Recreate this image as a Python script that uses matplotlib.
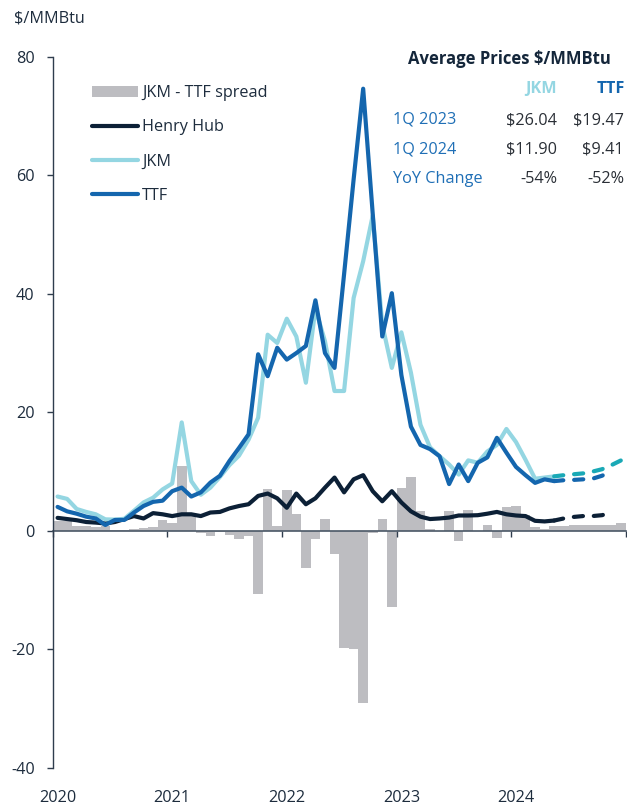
import numpy as np
import matplotlib
matplotlib.use("Agg")
import matplotlib.pyplot as plt
from matplotlib.lines import Line2D
from matplotlib.patches import Patch

plt.rcParams["font.family"] = ["Open Sans", "DejaVu Sans"]
plt.rcParams["axes.unicode_minus"] = False

# ---------------- data ($/MMBtu, monthly, Jan 2020 onwards) ----------------
year_labels = ["2020", "2021", "2022", "2023", "2024"]

henry_hub = [2.2, 2.0, 1.8, 1.5, 1.4, 1.25, 1.5, 2.0, 2.5, 2.1, 3.0, 2.8,
             2.5, 2.8, 2.8, 2.5, 3.1, 3.2, 3.8, 4.2, 4.5, 5.9, 6.3, 5.5,
             3.9, 6.3, 4.5, 5.5, 7.3, 9.0, 6.5, 8.7, 9.4, 6.7, 5.0, 6.7,
             4.8, 3.3, 2.4, 2.0, 2.1, 2.25, 2.6, 2.6, 2.65, 2.9, 3.2, 2.8,
             2.6, 2.5, 1.7, 1.6, 1.75]

jkm = [5.8, 5.4, 3.7, 3.2, 2.8, 1.95, 1.9, 2.05, 3.4, 4.8, 5.6, 7.0,
       8.0, 18.3, 8.4, 6.1, 7.3, 9.1, 11.1, 12.7, 15.4, 19.1, 33.1, 31.7,
       35.8, 32.8, 25.0, 37.5, 32.0, 23.6, 23.6, 39.3, 45.5, 53.2, 34.8, 27.5,
       33.5, 26.7, 17.9, 14.1, 12.6, 11.2, 9.5, 11.9, 11.5, 13.4, 14.5, 17.2,
       15.0, 12.0, 8.8, 9.0, 9.2]

ttf = [4.05, 3.3, 2.9, 2.4, 2.1, 1.0, 1.85, 1.85, 3.1, 4.2, 4.9, 5.1,
       6.7, 7.3, 5.8, 6.5, 8.15, 9.3, 11.8, 14.0, 16.3, 29.8, 26.1, 30.9,
       28.9, 30.0, 31.2, 38.9, 30.0, 27.5, 43.3, 59.3, 74.6, 53.5, 32.8, 40.1,
       26.3, 17.6, 14.5, 13.8, 12.6, 7.9, 11.2, 8.4, 11.5, 12.4, 15.7, 13.2,
       10.8, 9.4, 8.1, 8.7, 8.4]

jkm_ttf_spread = [1.6, 1.6, 0.8, 0.8, 0.7, 0.9, 0.1, 0.2, 0.3, 0.5, 0.6, 1.8,
                  1.3, 10.9, 2.6, -0.4, -0.85, -0.2, -0.7, -1.3, -0.9, -10.7, 7.0, 0.8,
                  6.9, 2.8, -6.2, -1.4, 2.0, -3.9, -19.7, -20.0, -29.1, -0.3, 2.0, -12.8,
                  7.2, 9.1, 3.4, 0.3, 0.0, 3.3, -1.7, 3.5, 0.0, 1.0, -1.2, 4.0,
                  4.2, 2.6, 0.7, 0.3, 0.8, 0.85, 1.0, 1.05, 1.05, 1.0, 0.95, 1.3]

# forward curves, starting at the last actual month (May 2024)
henry_hub_fwd = [1.75, 2.1, 2.35, 2.5, 2.5, 2.65, 3.1]
jkm_fwd = [9.2, 9.4, 9.55, 9.7, 10.0, 10.4, 11.1, 11.9]
ttf_fwd = [8.4, 8.55, 8.6, 8.7, 8.8, 9.3, 10.1]

# quarterly average table
table_rows = ["1Q 2023", "1Q 2024", "YoY Change"]
table_jkm = ["$26.04", "$11.90", "-54%"]
table_ttf = ["$19.47", "$9.41", "-52%"]

# ---------------- styling ----------------
C_HH = "#0c2036"
C_JKM = "#94d6e2"
C_JKM_FWD = "#1aa9b6"
C_TTF = "#1466ae"
C_BAR = "#bdbdc1"
C_TEXT = "#1d2c3d"
C_ROW = "#1f6fb6"
FS = 11.7

W_PX, H_PX = 627, 807
fig = plt.figure(figsize=(W_PX / 100, H_PX / 100), dpi=100)


def fx(px):
    return px / W_PX


def fy(py):
    return 1 - py / H_PX


ax = fig.add_axes([fx(52.8), fy(768), fx(625.8) - fx(52.8), fy(56.7) - fy(768)])

n_act = len(ttf)
mid = np.arange(len(jkm_ttf_spread)) + 0.5           # month centres
start = np.arange(len(jkm_ttf_spread))                # month starts

ax.bar(start, jkm_ttf_spread, width=1.0, align="edge", color=C_BAR,
       linewidth=0, zorder=1)

lw = 3.0
ax.plot(mid[:n_act], henry_hub, color=C_HH, lw=lw, zorder=3,
        solid_joinstyle="round", solid_capstyle="round")
ax.plot(mid[:n_act], jkm, color=C_JKM, lw=lw, zorder=4,
        solid_joinstyle="round", solid_capstyle="round")
ax.plot(mid[:n_act], ttf, color=C_TTF, lw=lw, zorder=5,
        solid_joinstyle="round", solid_capstyle="round")

f0 = n_act - 1
dash = (0, (2.2, 2.6))
ax.plot(mid[f0:f0 + len(henry_hub_fwd)], henry_hub_fwd, color=C_HH, lw=lw,
        ls=dash, dash_capstyle="round", zorder=3)
ax.plot(mid[f0:f0 + len(jkm_fwd)], jkm_fwd, color=C_JKM_FWD, lw=lw,
        ls=dash, dash_capstyle="round", zorder=4)
ax.plot(mid[f0:f0 + len(ttf_fwd)], ttf_fwd, color=C_TTF, lw=lw,
        ls=dash, dash_capstyle="round", zorder=5)

# axes
ax.set_xlim(0, len(jkm_ttf_spread))
ax.set_ylim(-40, 80)
ax.set_yticks(np.arange(-40, 81, 20))
for s in ["top", "right"]:
    ax.spines[s].set_visible(False)
ax.spines["left"].set_color("#2f3d4d")
ax.spines["left"].set_linewidth(1.0)
ax.spines["bottom"].set_position(("data", 0))
ax.spines["bottom"].set_color("#4a5766")
ax.spines["bottom"].set_linewidth(1.2)
ax.spines["bottom"].set_zorder(2)
ax.tick_params(axis="y", length=4, width=1, color="#2f3d4d", pad=9,
               labelsize=FS, labelcolor=C_TEXT)
ax.set_xticks(np.arange(0, len(jkm_ttf_spread) + 1, 12))
ax.tick_params(axis="x", length=4, width=1, color="#2f3d4d",
               labelbottom=False)

# year labels along the bottom edge
sec = ax.secondary_xaxis(0.0)
sec.set_xticks(np.arange(len(year_labels)) * 12 + 0.5)
sec.set_xticklabels(year_labels)
sec.spines["bottom"].set_visible(False)
sec.tick_params(axis="x", length=0, pad=16, labelsize=FS, labelcolor=C_TEXT)

fig.text(fx(14), fy(18), "$/MMBtu", fontsize=FS, color=C_TEXT, va="center", ha="left")

# legend
handles = [Patch(facecolor=C_BAR, edgecolor="none"),
           Line2D([], [], color=C_HH, lw=lw, solid_capstyle="round"),
           Line2D([], [], color=C_JKM, lw=lw, solid_capstyle="round"),
           Line2D([], [], color=C_TTF, lw=lw, solid_capstyle="round")]
labels = ["JKM - TTF spread", "Henry Hub", "JKM", "TTF"]
ax.legend(handles, labels, loc="upper left", bbox_to_anchor=(fx(92), fy(85)),
          bbox_transform=fig.transFigure, frameon=False, fontsize=FS,
          borderpad=0, borderaxespad=0, handlelength=2.85, handleheight=0.7,
          handletextpad=0.25, labelspacing=1.12, labelcolor=C_TEXT)

# average price table
fig.text(fx(509), fy(59), "Average Prices $/MMBtu", fontsize=12, fontweight="bold",
         color="#14263a", ha="center", va="center")
fig.text(fx(557), fy(89), "JKM", fontsize=FS, fontweight="bold", color=C_JKM,
         ha="right", va="center")
fig.text(fx(625), fy(89), "TTF", fontsize=FS, fontweight="bold", color=C_TTF,
         ha="right", va="center")
for i, (r, vj, vt) in enumerate(zip(table_rows, table_jkm, table_ttf)):
    y = fy(120 + i * 29.5)
    fig.text(fx(393), y, r, fontsize=FS, color=C_ROW, ha="left", va="center")
    fig.text(fx(557), y, vj, fontsize=FS, color="#2a2f36", ha="right", va="center")
    fig.text(fx(624), y, vt, fontsize=FS, color="#2a2f36", ha="right", va="center")

fig.savefig("out.png", dpi=100)
